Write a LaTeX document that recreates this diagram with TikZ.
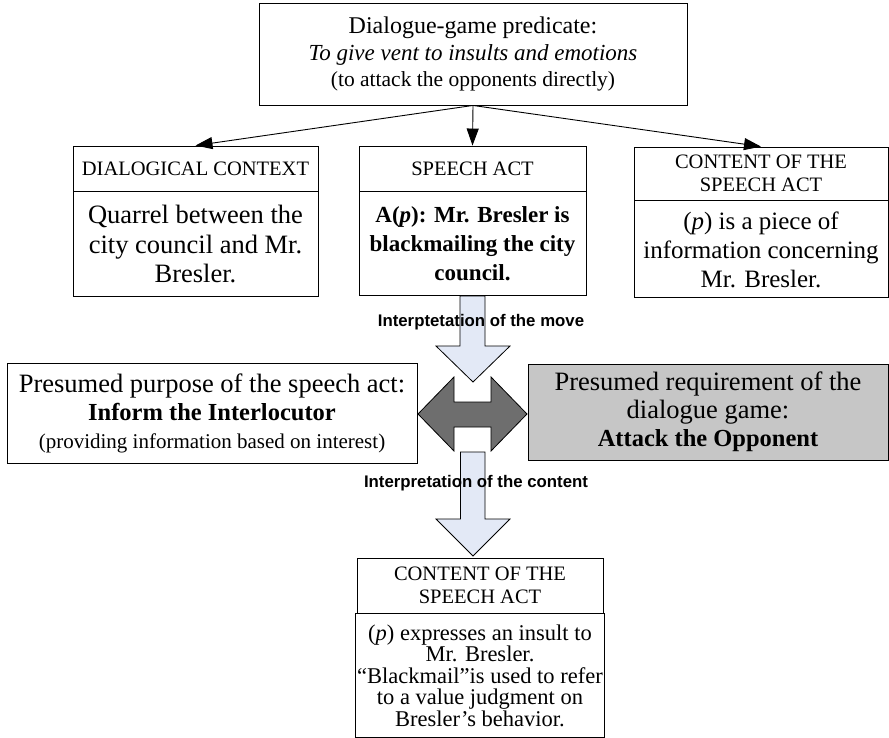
\documentclass[tikz,border=0pt]{standalone}
\usepackage{fontspec}
\setmainfont{Liberation Serif}
\setsansfont{Liberation Sans}
\usepackage{tikz}
\usetikzlibrary{arrows.meta,positioning,calc}

\definecolor{arrowblue}{RGB}{227,233,246}
\definecolor{darkarrow}{RGB}{110,110,110}
\definecolor{reqgray}{RGB}{198,198,198}

\begin{document}
\begin{tikzpicture}[
    x=1pt, y=-1pt,
    box/.style={draw, line width=0.9pt, align=center, inner sep=2pt},
    head/.style={box, font=\fontsize{20.5}{22.5}\selectfont},
    body/.style={box, font=\fontsize{25.5}{29}\selectfont},
    conn/.style={-{Triangle[length=17pt,width=12pt]}, line width=0.9pt},
    blockarr/.style={draw, line width=0.8pt, fill=arrowblue},
    label/.style={font=\sffamily\bfseries\fontsize{16.8}{18}\selectfont}
]
\useasboundingbox (0,0) rectangle (889,738);

% predicate
\node[box, minimum width=428pt, minimum height=102pt] (pred) at (473,54)
  {\fontsize{24}{28}\selectfont Dialogue-game predicate:\\[5pt]
   \fontsize{23}{28}\selectfont\itshape To give vent to insults and emotions\\[5pt]
   \fontsize{21.5}{26}\selectfont (to attack the opponents directly)};

% three columns
\node[head, minimum width=245pt, minimum height=45pt] (ctxHead) at (195.5,168.5) {DIALOGICAL CONTEXT};
\node[body, anchor=north, minimum width=245pt, minimum height=105pt, font=\fontsize{26.5}{29.5}\selectfont] (ctxBody) at (ctxHead.south)
  {Quarrel between the\\city council and Mr.\\Bresler.};

\node[head, minimum width=227pt, minimum height=45pt] (actHead) at (472.5,168.5) {SPEECH ACT};
\node[body, anchor=north, minimum width=227pt, minimum height=104pt, font=\fontsize{23}{29}\selectfont\bfseries] (actBody) at (actHead.south)
  {A(\textit{p}): Mr. Bresler is\\blackmailing the city\\council.};

\node[head, minimum width=254pt, minimum height=53pt] (cntHead) at (761,173.5) {CONTENT OF THE\\SPEECH ACT};
\node[body, anchor=north, minimum width=254pt, minimum height=97pt, font=\fontsize{25}{29}\selectfont] (cntBody) at (cntHead.south)
  {(\textit{p}) is a piece of\\information concerning\\Mr. Bresler.};

\draw[conn] (pred.south) -- (ctxHead.north);
\draw[conn] (pred.south) -- (actHead.north);
\draw[conn] (pred.south) -- (cntHead.north);

% purpose vs requirement
\node[body, minimum width=410pt, minimum height=100pt, font=\fontsize{26.5}{28}\selectfont] (purpose) at (212,413)
  {Presumed purpose of the speech act:\\
   {\fontsize{24.5}{28}\selectfont\bfseries Inform the Interlocutor}\\
   {\fontsize{21}{26}\selectfont (providing information based on interest)}};
\node[body, fill=reqgray, minimum width=360pt, minimum height=96pt, font=\fontsize{26.5}{28}\selectfont] (require) at (708,412)
  {Presumed requirement of the\\dialogue game:\\{\fontsize{24.5}{28}\selectfont\bfseries Attack the Opponent}};

\draw[line width=0.8pt, fill=darkarrow] (418,414) -- (454,377) -- (454,402) -- (491,402) -- (491,377)
  -- (527,414) -- (491,451) -- (491,427) -- (454,427) -- (454,451) -- cycle;

% interpretation arrows
\draw[blockarr] (460,296) -- (485,296) -- (485,346) -- (510,346) -- (473,382) -- (436,346) -- (460,346) -- cycle;
\node[label] (moveLbl) at (481,322) {Interptetation of the move};

\draw[blockarr] (460.5,452) -- (485,452) -- (485,519) -- (510,519) -- (473,556) -- (436,519) -- (460.5,519) -- cycle;
\node[label] (contLbl) at (476,483) {Interpretation of the content};

% result
\node[head, minimum width=246pt, minimum height=55pt] (resHead) at (480,585.5) {CONTENT OF THE\\SPEECH ACT};
\node[box, anchor=north, minimum width=246pt, minimum height=123.5pt, font=\fontsize{22.5}{21.5}\selectfont] (resBody) at (resHead.south)
  {(\textit{p}) expresses an insult to\\Mr. Bresler.\\“Blackmail”is used to refer\\to a value judgment on\\Bresler’s behavior.};
\end{tikzpicture}
\end{document}
